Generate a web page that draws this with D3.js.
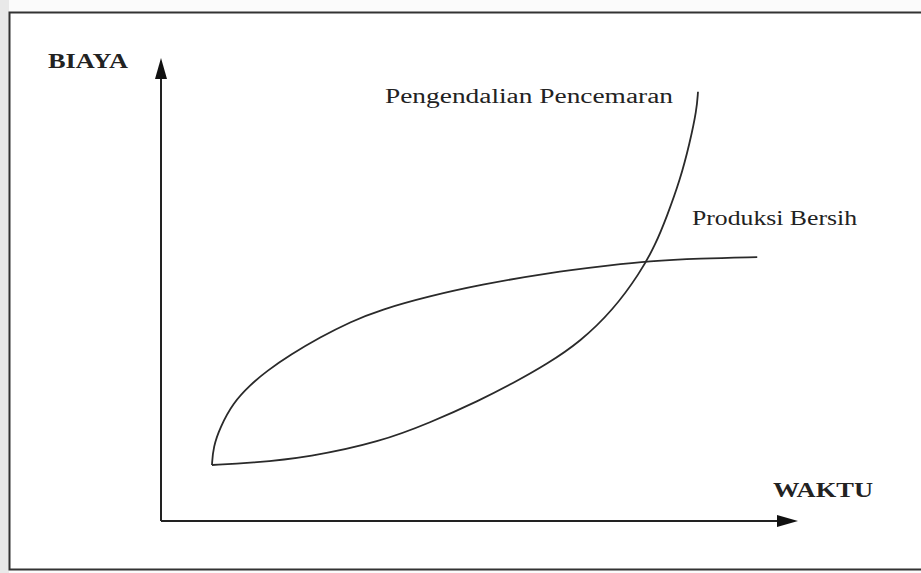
<!DOCTYPE html>
<html>
<head>
<meta charset="utf-8">
<script src="https://cdn.jsdelivr.net/npm/d3@7"></script>
<style>
  body { margin: 0; background: #fbfbfb; }
  text { font-family: "Liberation Serif", "Times New Roman", Tinos, serif; fill: #222; }
</style>
</head>
<body>
<div id="chart"></div>
<script>
// values, x = WAKTU, y = BIAYA (0..100 up to the arrow tips)
var produksiX = [8.0, 8.2, 9.3, 11.3, 14.0, 16.6, 20.3, 25.0, 29.7, 34.4, 42.2, 50.1, 60.6, 71.0, 76.3, 84.6, 93.6];
var produksiY = [12.1, 16.0, 20.3, 25.5, 29.4, 32.4, 35.9, 39.7, 43.0, 45.6, 48.6, 51.0, 53.6, 55.3, 56.1, 56.7, 57.0];
var pengendalianX = [8.0, 14.0, 23.4, 34.4, 42.2, 50.1, 55.3, 60.6, 65.8, 71.0, 75.2, 77.6, 79.4, 81.5, 83.0, 84.1, 84.3];
var pengendalianY = [12.1, 12.5, 13.8, 17.1, 21.2, 26.1, 29.8, 33.9, 38.7, 45.6, 53.6, 59.6, 65.7, 73.7, 81.6, 88.8, 92.7];
var axisLabels = ["BIAYA", "WAKTU"];
var seriesLabels = ["Pengendalian Pencemaran", "Produksi Bersih"];

var W = 921, H = 573;

var svg = d3.select("#chart")
  .append("svg")
    .attr("width", W)
    .attr("height", H);

// scanned page frame
svg.append("rect").attr("x", 0).attr("y", 0).attr("width", 9).attr("height", H).attr("fill", "#e9e9e9");
svg.append("rect").attr("x", 10).attr("y", 13).attr("width", W).attr("height", 556).attr("fill", "#fff");
svg.append("path")
  .attr("d", "M" + W + ",12.5 L9.5,12.5 L9.5,569.5 L" + W + ",569.5")
  .attr("fill", "none")
  .attr("stroke", "#333")
  .attr("stroke-width", 2);

var x = d3.scaleLinear().domain([0, 100]).range([161, 798]);
var y = d3.scaleLinear().domain([0, 100]).range([521, 58]);

// axes with arrow heads
svg.append("line")
  .attr("x1", x(0)).attr("y1", y(0)).attr("x2", x(0)).attr("y2", y(100) + 10)
  .attr("stroke", "#222").attr("stroke-width", 2);
svg.append("line")
  .attr("x1", x(0)).attr("y1", y(0)).attr("x2", x(100) - 10).attr("y2", y(0))
  .attr("stroke", "#222").attr("stroke-width", 2);

svg.append("path")
  .attr("d", "M" + x(0) + "," + y(100) + " L" + (x(0) - 6) + "," + (y(100) + 21) +
             " L" + (x(0) + 6) + "," + (y(100) + 21) + "Z")
  .attr("fill", "#111");
svg.append("path")
  .attr("d", "M" + x(100) + "," + y(0) + " L" + (x(100) - 21) + "," + (y(0) - 6) +
             " L" + (x(100) - 21) + "," + (y(0) + 6) + "Z")
  .attr("fill", "#111");

var line = d3.line()
  .x(function(d) { return x(d[0]); })
  .y(function(d) { return y(d[1]); })
  .curve(d3.curveBasis);

var produksi = d3.zip(produksiX, produksiY);
var pengendalian = d3.zip(pengendalianX, pengendalianY);

svg.selectAll("path.curve")
  .data([produksi, pengendalian])
  .enter()
  .append("path")
    .attr("class", "curve")
    .attr("d", line)
    .attr("fill", "none")
    .attr("stroke", "#2a2a2a")
    .attr("stroke-width", 1.8);

// labels
svg.append("text")
  .attr("x", 48).attr("y", 68)
  .attr("font-size", 21).attr("font-weight", "bold")
  .attr("textLength", 80).attr("lengthAdjust", "spacingAndGlyphs")
  .text(axisLabels[0]);

svg.append("text")
  .attr("x", 773).attr("y", 497)
  .attr("font-size", 22).attr("font-weight", "bold")
  .attr("textLength", 100).attr("lengthAdjust", "spacingAndGlyphs")
  .text(axisLabels[1]);

svg.append("text")
  .attr("x", 385).attr("y", 103)
  .attr("font-size", 20)
  .attr("textLength", 288).attr("lengthAdjust", "spacingAndGlyphs")
  .text(seriesLabels[0]);

svg.append("text")
  .attr("x", 692).attr("y", 225)
  .attr("font-size", 20)
  .attr("textLength", 165).attr("lengthAdjust", "spacingAndGlyphs")
  .text(seriesLabels[1]);
</script>
</body>
</html>
